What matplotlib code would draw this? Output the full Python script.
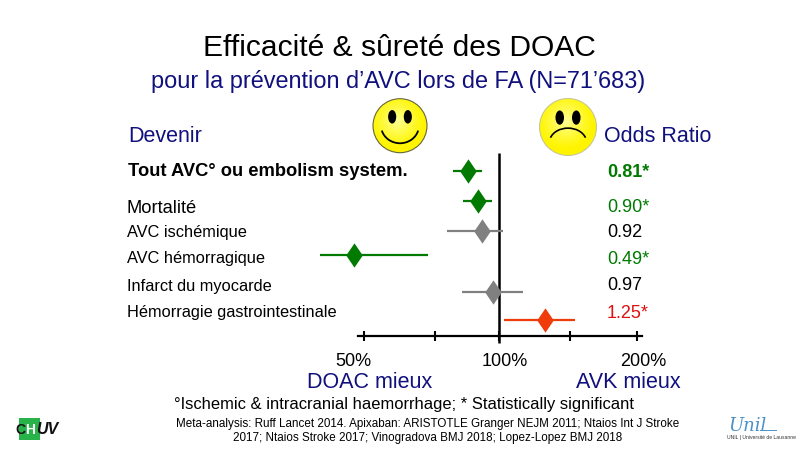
import numpy as np
import matplotlib
matplotlib.use("Agg")
import matplotlib.pyplot as plt
from matplotlib.patches import Circle, Rectangle, Arc, Ellipse

# ---- data ----
outcomes = ["Tout AVC° ou embolism system.", "Mortalité", "AVC ischémique",
            "AVC hémorragique", "Infarct du myocarde", "Hémorragie gastrointestinale"]
or_labels = ["0.81*", "0.90*", "0.92", "0.49*", "0.97", "1.25*"]
# positions
centres = [0.853, 0.899, 0.917, 0.480, 0.968, 1.263]
lowers = [0.793, 0.835, 0.768, 0.402, 0.827, 1.026]
uppers = [0.917, 0.965, 1.023, 0.697, 1.130, 1.471]
marker_colors = ["#007a00", "#007a00", "#808080", "#007a00", "#808080", "#f03c0a"]
label_colors = ["#007a00", "#007a00", "#000000", "#007a00", "#000000", "#e01010"]
row_y = [171, 201, 231, 255, 292, 320]
label_y = [172, 208.5, 232, 258, 286, 312]
or_y = [172.5, 208, 232.5, 259, 285.5, 313]
tick_values = [0.504, 0.722, 1.0, 1.434, 2.015]
tick_names = ["50%", "100%", "200%"]
tick_name_x = [353, 505, 643]

NAVY = "#10107e"
DIAMOND = [(-0.68, 0), (0, 1), (0.68, 0), (0, -1), (-0.68, 0)]
plt.rcParams["font.family"] = ["Liberation Sans", "DejaVu Sans"]

fig = plt.figure(figsize=(8, 4.5), dpi=100, facecolor="white")

# overlay in pixel coordinates for text and logos
pa = fig.add_axes([0, 0, 1, 1])
pa.set_xlim(0, 800)
pa.set_ylim(450, 0)
pa.axis("off")

# data axes (log2 scale), same pixel extent
ax = fig.add_axes([0, 0, 1, 1], facecolor="none")
ax.set_xscale("log", base=2)
ax.set_xlim(2 ** ((0 - 499) / 136.5), 2 ** ((800 - 499) / 136.5))
ax.set_ylim(450, 0)
for s in ["top", "left", "right"]:
    ax.spines[s].set_visible(False)
ax.spines["bottom"].set_position(("data", 336))
ax.spines["bottom"].set_linewidth(1.6)
ax.spines["bottom"].set_bounds(2 ** ((358 - 499) / 136.5), 2 ** ((642 - 499) / 136.5))
ax.yaxis.set_visible(False)
ax.set_xticks(tick_values)
ax.set_xticklabels([""] * len(tick_values))
ax.xaxis.set_minor_locator(matplotlib.ticker.NullLocator())
ax.tick_params(axis="x", direction="inout", length=7, width=1.5, color="black")

ax.plot([1, 1], [153, 343], color="black", lw=1.8, solid_capstyle="butt")
for c, lo, hi, y, col in zip(centres, lowers, uppers, row_y, marker_colors):
    ax.plot([lo, hi], [y, y], color=col, lw=1.6, solid_capstyle="butt")
    ax.plot([c], [y], marker=DIAMOND, ms=17.5, mfc=col, mec=col, mew=0, ls="none")

# texts
pa.text(399.5, 48, "Efficacité & sûreté des DOAC", fontsize=21.6, ha="center", va="center", color="black")
pa.text(398.5, 81.5, "pour la prévention d’AVC lors de FA (N=71’683)", fontsize=16.9, ha="center", va="center", color=NAVY)
pa.text(128, 136.5, "Devenir", fontsize=15.5, va="center", color=NAVY)
pa.text(604, 136.5, "Odds Ratio", fontsize=15.5, va="center", color=NAVY)

for i, (name, y) in enumerate(zip(outcomes, label_y)):
    if i == 0:
        pa.text(128, y, name, fontsize=13.2, fontweight="bold", va="center", color="black")
    elif i == 1:
        pa.text(127, y, name, fontsize=13.2, va="center", color="black")
    else:
        pa.text(127, y, name, fontsize=11.75, va="center", color="black")
for i, (t, y, col) in enumerate(zip(or_labels, or_y, label_colors)):
    pa.text(607, y, t, fontsize=13, va="center", color=col, fontweight="bold" if i == 0 else "normal")

for t, x in zip(tick_names, tick_name_x):
    pa.text(x, 361.5, t, fontsize=13, ha="center", va="center", color="black")
pa.text(370, 382.5, "DOAC mieux", fontsize=15.5, ha="center", va="center", color=NAVY)
pa.text(628.5, 382.5, "AVK mieux", fontsize=15.5, ha="center", va="center", color=NAVY)
pa.text(174, 404.5, "°Ischemic & intracranial haemorrhage; * Statistically significant", fontsize=11.9, va="center", color="black")
pa.text(427.5, 424, "Meta-analysis: Ruff Lancet 2014. Apixaban: ARISTOTLE Granger NEJM 2011; Ntaios Int J Stroke",
        fontsize=8.35, ha="center", va="center", color="black")
pa.text(427.5, 438, "2017; Ntaios Stroke 2017; Vinogradova BMJ 2018; Lopez-Lopez BMJ 2018",
        fontsize=8.35, ha="center", va="center", color="black")


def smiley(cx, cy, r, happy):
    yy, xx = np.mgrid[-1:1:120j, -1:1:120j]
    d = np.clip(np.sqrt((xx + 0.1) ** 2 + (yy + 0.2) ** 2), 0, 1)
    img = np.zeros(d.shape + (3,))
    img[..., 0] = 1.0
    img[..., 1] = 1.0 - 0.04 * d
    img[..., 2] = 0.6 * (1 - d) ** 1.2
    im = pa.imshow(img, extent=[cx - r, cx + r, cy + r, cy - r], zorder=2, aspect="auto")
    clip = Circle((cx, cy), r, transform=pa.transData)
    im.set_clip_path(clip)
    pa.add_patch(Circle((cx, cy), r, fc="none", ec="#66663a" if happy else "#c8c890", lw=0.8, zorder=3))
    for dx in (-0.29, 0.29):
        pa.add_patch(Ellipse((cx + dx * r, cy - 0.33 * r), 0.3 * r, 0.5 * r, fc="black", ec="none", zorder=4))
    if happy:
        pa.add_patch(Arc((cx, cy), 1.4 * r, 1.3 * r, theta1=15, theta2=165, color="black", lw=1.3, zorder=4))
    else:
        pa.add_patch(Arc((cx, cy + 0.54 * r), 1.3 * r, 1.0 * r, theta1=195, theta2=345, color="black", lw=1.2, zorder=4))


smiley(400, 125.7, 27, True)
smiley(568, 127, 28.5, False)
pa.set_xlim(0, 800)
pa.set_ylim(450, 0)

# logos
pa.add_patch(Rectangle((19, 418), 21, 22, fc="#27b24a", ec="none", zorder=2))
pa.text(15, 430, "C", fontsize=10, fontweight="bold", va="center", color="#111111", zorder=3)
pa.text(25.5, 430, "H", fontsize=10, fontweight="bold", va="center", color="white", zorder=3)
pa.text(36, 430, "UV", fontsize=11.5, fontweight="bold", style="italic", va="center", color="#111111", zorder=3)
pa.text(747, 426, "Unil", fontsize=13, style="italic", family="DejaVu Serif", ha="center", va="center", color="#4a90c8")
pa.plot([760, 776], [430, 430], color="#4a90c8", lw=0.7)
pa.text(727, 437.5, "UNIL | Université de Lausanne", fontsize=3.6, va="center", color="#333333")

fig.savefig("out.png", dpi=100)
